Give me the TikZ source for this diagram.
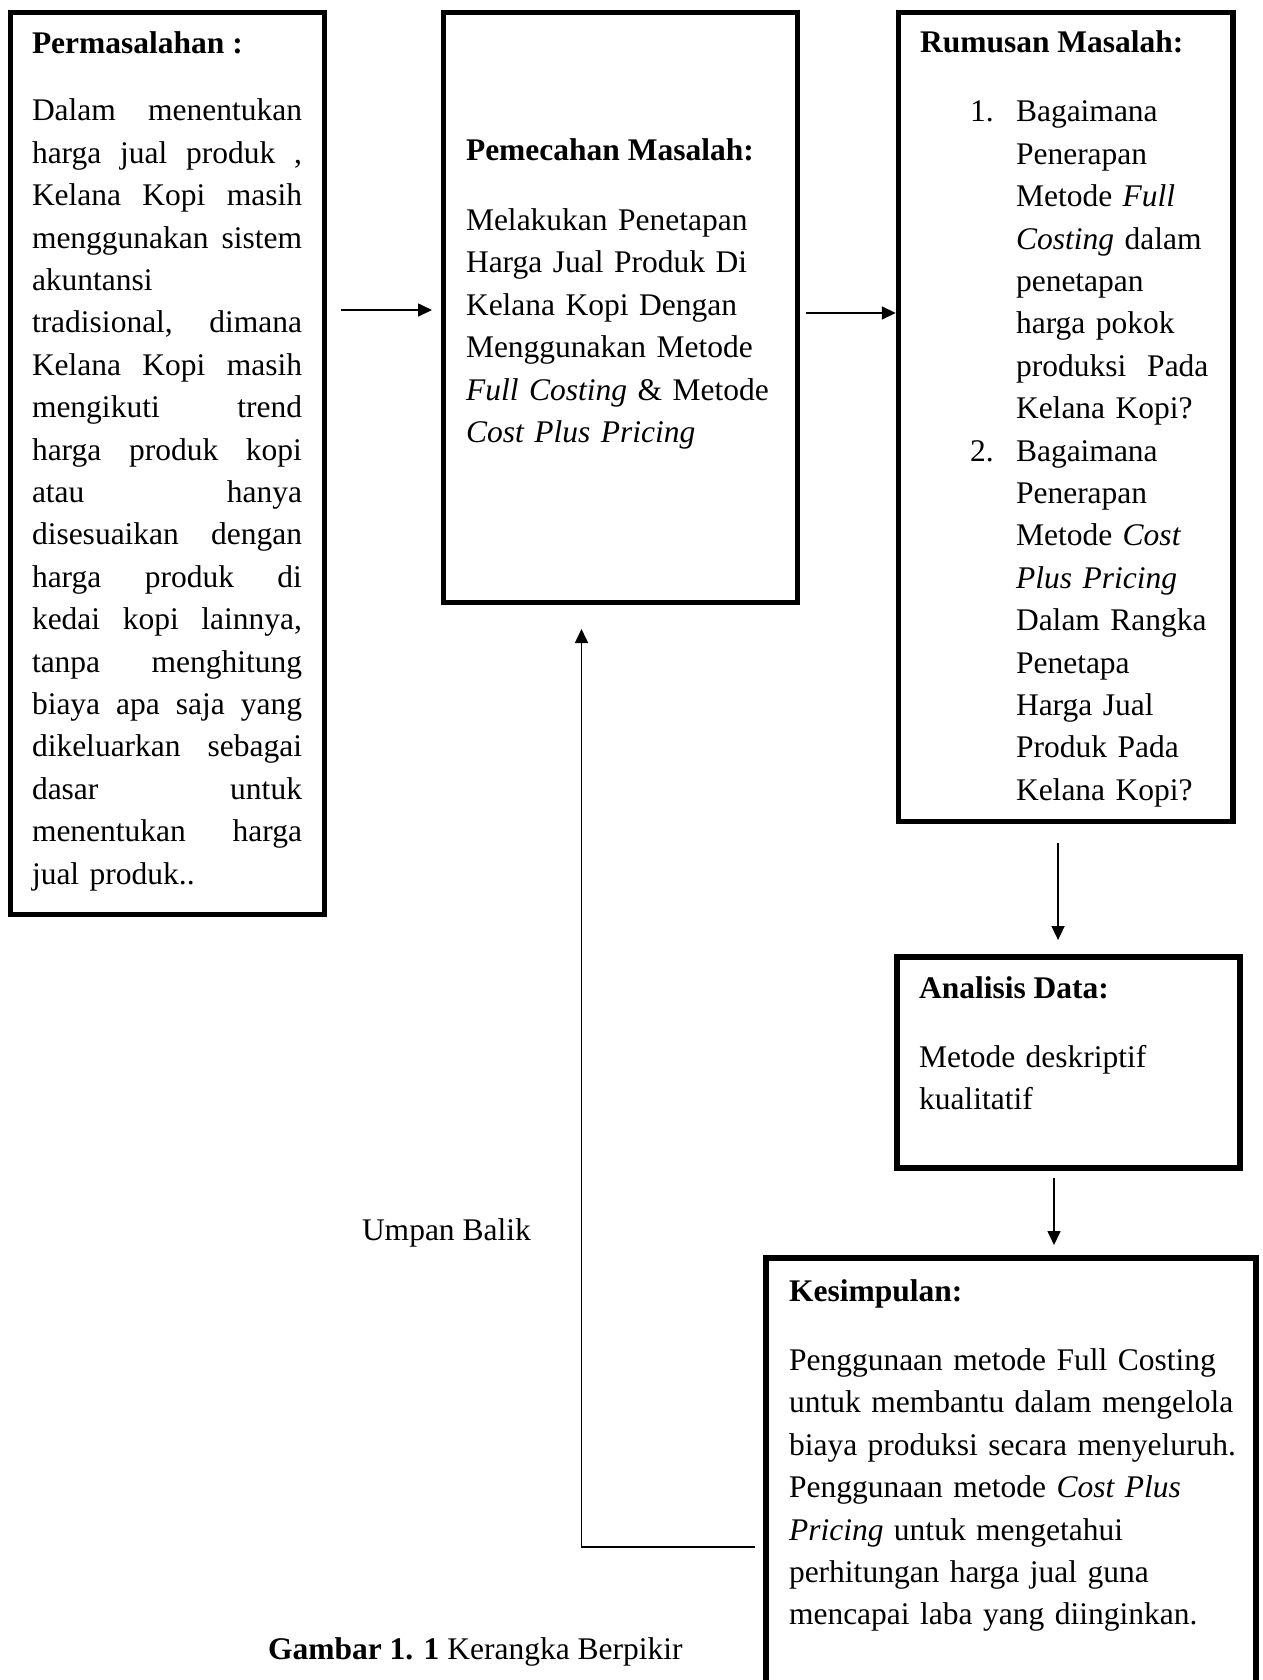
\documentclass[tikz,border=0pt]{standalone}
\usepackage{fontspec}
\setmainfont{Liberation Serif}
\usetikzlibrary{arrows.meta,calc}
\newcommand\JL[1]{\hbox to\linewidth{#1}}
\newcommand\NL[1]{\hbox{#1}}
\newcommand\ItemL[2]{\hbox{\hbox to46pt{#1\hfil}#2}}
\newcommand\IndL[1]{\hbox{\hskip46pt #1}}
\tikzset{
  frame/.style={draw=black, line width=5.5pt, inner sep=0pt, outer sep=0pt, anchor=north west},
  txt/.style={anchor=base west, inner sep=0pt, outer sep=0pt, font=\fontsize{31.5}{42.4}\selectfont},
  head/.style={txt, font=\fontsize{31.5}{42.4}\selectfont\bfseries},
  body/.style={txt, align=left},
  conn/.style={line width=1.6pt, -{Triangle[length=14pt,width=13pt]}},
}
\begin{document}
\begin{tikzpicture}[x=1pt,y=-1pt]
\fill[white] (0,0) rectangle (1262,1680);
\useasboundingbox (0,0) rectangle (1262,1680);
\clip (0,0) rectangle (1262,1680);

% boxes
\node[frame, minimum width=314pt, minimum height=902pt] (b1) at (10.5,12.5) {};
\node[frame, minimum width=354pt, minimum height=590pt] (b2) at (443.5,12.5) {};
\node[frame, minimum width=334.7pt, minimum height=809.2pt] (b3) at (898.3,12.5) {};
\node[frame, minimum width=343pt, minimum height=211pt] (b4) at (897,957) {};
\node[frame, minimum width=490pt, minimum height=450pt] (b5) at (766,1258) {};

% box 1 text
\node[head] (h1) at (32,53.5) {Permasalahan :};
\node[body, text width=270pt] (t1) at (32,121) {%
\JL{Dalam\hfill menentukan}\break
\JL{harga\hfill jual\hfill produk\hfill ,}\break
\JL{Kelana\hfill Kopi\hfill masih}\break
\JL{menggunakan\hfill sistem}\break
\NL{akuntansi}\break
\JL{tradisional,\hfill dimana}\break
\JL{Kelana\hfill Kopi\hfill masih}\break
\JL{mengikuti\hfill trend}\break
\JL{harga\hfill produk\hfill kopi}\break
\JL{atau\hfill hanya}\break
\JL{disesuaikan\hfill dengan}\break
\JL{harga\hfill produk\hfill di}\break
\JL{kedai\hfill kopi\hfill lainnya,}\break
\JL{tanpa\hfill menghitung}\break
\JL{biaya\hfill apa\hfill saja\hfill yang}\break
\JL{dikeluarkan\hfill sebagai}\break
\JL{dasar\hfill untuk}\break
\JL{menentukan\hfill harga}\break
\NL{jual produk..}};

% box 2 text
\node[head] (h2) at (466,161) {Pemecahan Masalah:};
\node[body, text width=330pt] (t2) at (466,230.5) {%
\NL{Melakukan Penetapan}\break
\NL{Harga Jual Produk Di}\break
\NL{Kelana Kopi Dengan}\break
\NL{Menggunakan Metode}\break
\NL{\textit{Full Costing} \& Metode}\break
\NL{\textit{Cost Plus Pricing}}};

% box 3 text
\node[head] (h3) at (920,53) {Rumusan Masalah:};
\node[body, text width=260pt] (t3) at (970,122) {%
\ItemL{1.}{Bagaimana}\break
\IndL{Penerapan}\break
\IndL{Metode \textit{Full}}\break
\IndL{\textit{Costing} dalam}\break
\IndL{penetapan}\break
\IndL{harga pokok}\break
\IndL{produksi\ \ Pada}\break
\IndL{Kelana Kopi?}\break
\ItemL{2.}{Bagaimana}\break
\IndL{Penerapan}\break
\IndL{Metode \textit{Cost}}\break
\IndL{\textit{Plus Pricing}}\break
\IndL{Dalam Rangka}\break
\IndL{Penetapa}\break
\IndL{Harga Jual}\break
\IndL{Produk Pada}\break
\IndL{Kelana Kopi?}};

% box 4 text
\node[head] (h4) at (919,998) {Analisis Data:};
\node[body, text width=320pt] (t4) at (919,1067) {%
\NL{Metode deskriptif}\break
\NL{kualitatif}};

% box 5 text
\node[head] (h5) at (789,1301.5) {Kesimpulan:};
\node[body, text width=460pt] (t5) at (789,1370.5) {%
\NL{Penggunaan metode Full Costing}\break
\NL{untuk membantu dalam mengelola}\break
\NL{biaya produksi secara menyeluruh.}\break
\NL{Penggunaan metode \textit{Cost Plus}}\break
\NL{\textit{Pricing} untuk mengetahui}\break
\NL{perhitungan harga jual guna}\break
\NL{mencapai laba yang diinginkan.}};

% labels
\node[txt] (ub) at (362,1240) {Umpan Balik};
\node[txt] (cap) at (268,1659) {\textbf{Gambar 1. 1} Kerangka Berpikir};

% connectors
\draw[conn, shorten <=16.5pt, shorten >=11.5pt]
  ($(b1.east |- b2.west)+(0,2.5)$) -- ($(b2.west)+(0,2.5)$);
\draw[conn, shorten <=8.5pt, shorten >=2.5pt]
  ($(b2.east)+(0,5.5)$) -- ($(b3.west |- b2.east)+(0,5.5)$);
\draw[conn, shorten <=21.3pt, shorten >=17pt]
  ($(b3.south)+(-7.6,0)$) -- ($(b3.south |- b4.north)+(-7.6,0)$);
\draw[conn, shorten <=10pt, shorten >=13pt]
  ($(b4.south)+(-14.5,0)$) -- ($(b4.south |- b5.north)+(-14.5,0)$);
\coordinate (fbk) at (581.5,1547);
\draw[conn, shorten <=11pt, shorten >=26.5pt]
  (b5.west |- fbk) -- (fbk) -- (fbk |- b2.south);
\end{tikzpicture}
\end{document}
